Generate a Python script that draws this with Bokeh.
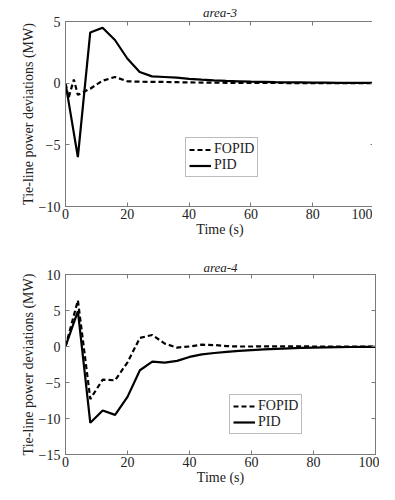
from bokeh.plotting import figure
from bokeh.models import LinearAxis, Legend, LegendItem, CustomJSTickFormatter, FixedTicker, Range1d, Title
from bokeh.layouts import column
from bokeh.embed import file_html
from bokeh.resources import INLINE

# ---- data ----
t3_pid = [0, 4, 8, 12, 16, 20, 24, 28, 32, 36, 40, 44, 48, 52, 56, 60, 64, 68, 72, 76, 80, 84, 88, 92, 96, 100]
y3_pid = [0, -6.0, 4.1, 4.5, 3.5, 2.0, 0.9, 0.55, 0.5, 0.45, 0.35, 0.28, 0.22, 0.18, 0.15, 0.12, 0.1, 0.08, 0.07, 0.06, 0.05, 0.04, 0.03, 0.03, 0.02, 0.02]
t3_fopid = [0, 1, 2.7, 4, 8, 12, 16, 20, 24, 28, 32, 36, 40, 44, 48, 52, 56, 60, 64, 68, 72, 76, 80, 84, 88, 92, 96, 100]
y3_fopid = [0, -1.2, 0.3, -0.95, -0.45, 0.2, 0.5, 0.15, 0.12, 0.1, 0.1, 0.08, 0.06, 0.05, 0.04, 0.03, 0.03, 0.02, 0.02, 0.02, 0.01, 0.01, 0.01, 0.01, 0.0, 0.0, 0.0, 0.0]

t4 = [0, 4, 8, 12, 16, 20, 24, 28, 32, 36, 40, 44, 48, 52, 56, 60, 64, 68, 72, 76, 80, 84, 88, 92, 96, 100]
y4_pid = [0, 4.9, -10.6, -8.9, -9.5, -7.0, -3.3, -2.1, -2.25, -2.0, -1.45, -1.1, -0.9, -0.75, -0.6, -0.5, -0.4, -0.32, -0.25, -0.2, -0.15, -0.12, -0.09, -0.07, -0.05, -0.05]
y4_fopid = [0, 6.4, -7.3, -4.6, -4.7, -2.2, 1.2, 1.6, 0.4, -0.15, 0.0, 0.25, 0.2, 0.05, 0.0, 0.0, 0.02, 0.02, 0.01, 0.01, 0.0, 0.0, 0.0, 0.0, 0.0, 0.0]

x_ticks = [0, 20, 40, 60, 80, 100]
y3_ticks = [-10, -5, 0, 5]
y4_ticks = [-15, -10, -5, 0, 5, 10]

FONT = "'Liberation Serif'"
GRAY = "#7a7a7a"
fmt = CustomJSTickFormatter(code="return tick < 0 ? '\u2212' + Math.abs(tick) : String(tick);")
blank = CustomJSTickFormatter(code="return '';")


def make(title, yr, yticks, pid_t, pid_y, fo_t, fo_y, fw, fh, ml, mt, mb, tstand, leg_loc, lh):
    p = figure(frame_width=fw, frame_height=fh, output_backend="svg", toolbar_location=None,
               x_range=Range1d(0, 100), y_range=Range1d(*yr),
               min_border_left=ml, min_border_right=4, min_border_top=mt, min_border_bottom=mb,
               background_fill_color="white", border_fill_color="white")
    p.title = Title(text=title, align="center", text_font=FONT, text_font_style="italic",
                    text_font_size="13px", text_color="#222222", standoff=tstand, offset=0)
    p.outline_line_color = GRAY
    p.xgrid.visible = False
    p.ygrid.visible = False
    for ax in (p.xaxis[0], p.yaxis[0]):
        ax.axis_line_color = GRAY
        ax.major_tick_line_color = GRAY
        ax.major_tick_in = 4
        ax.major_tick_out = 0
        ax.minor_tick_line_color = None
        ax.major_label_text_font = FONT
        ax.major_label_text_font_size = "14px"
        ax.major_label_text_color = "#222222"
        ax.axis_label_text_font = FONT
        ax.axis_label_text_font_size = "14px"
        ax.axis_label_text_font_style = "normal"
        ax.axis_label_text_color = "#222222"
        ax.formatter = fmt
    p.xaxis[0].ticker = FixedTicker(ticks=x_ticks)
    p.yaxis[0].ticker = FixedTicker(ticks=yticks)
    p.xaxis[0].axis_label = "Time (s)"
    p.xaxis[0].axis_label_standoff = 0
    p.xaxis[0].major_label_standoff = 2
    p.yaxis[0].axis_label = "Tie-line power deviations (MW)"
    p.yaxis[0].axis_label_standoff = 0
    p.yaxis[0].major_label_standoff = 5
    for loc, tk in (("above", x_ticks), ("right", yticks)):
        ax = LinearAxis(ticker=FixedTicker(ticks=tk), axis_line_color=GRAY, major_tick_line_color=GRAY,
                        major_tick_in=4, major_tick_out=0, minor_tick_line_color=None,
                        formatter=blank, major_label_standoff=0)
        p.add_layout(ax, loc)

    r_fo = p.line(fo_t, fo_y, line_color="black", line_width=2.2, line_dash="5 3")
    r_pid = p.line(pid_t, pid_y, line_color="black", line_width=2.2)
    leg = Legend(items=[LegendItem(label="FOPID", renderers=[r_fo]), LegendItem(label="PID", renderers=[r_pid])],
                 location=leg_loc, label_text_font=FONT, label_text_font_size="14px", label_text_color="#222222",
                 glyph_width=22, glyph_height=lh, label_height=lh, label_standoff=3, padding=3, spacing=0,
                 margin=0, border_line_color=GRAY, background_fill_alpha=1.0)
    p.add_layout(leg, "center")
    return p


p1 = make("area-3", (-10, 5), y3_ticks, t3_pid, y3_pid, t3_fopid, y3_fopid, 309, 185, 59, 0, 34, 4, (132, 29), 15)
p2 = make("area-4", (-15, 10), y4_ticks, t4, y4_pid, t4, y4_fopid, 310, 180, 65, 34, 30, 0, (164, 20), 12)

layout = column(p1, p2, spacing=0)
open("out.html", "w").write(file_html(layout, INLINE))
